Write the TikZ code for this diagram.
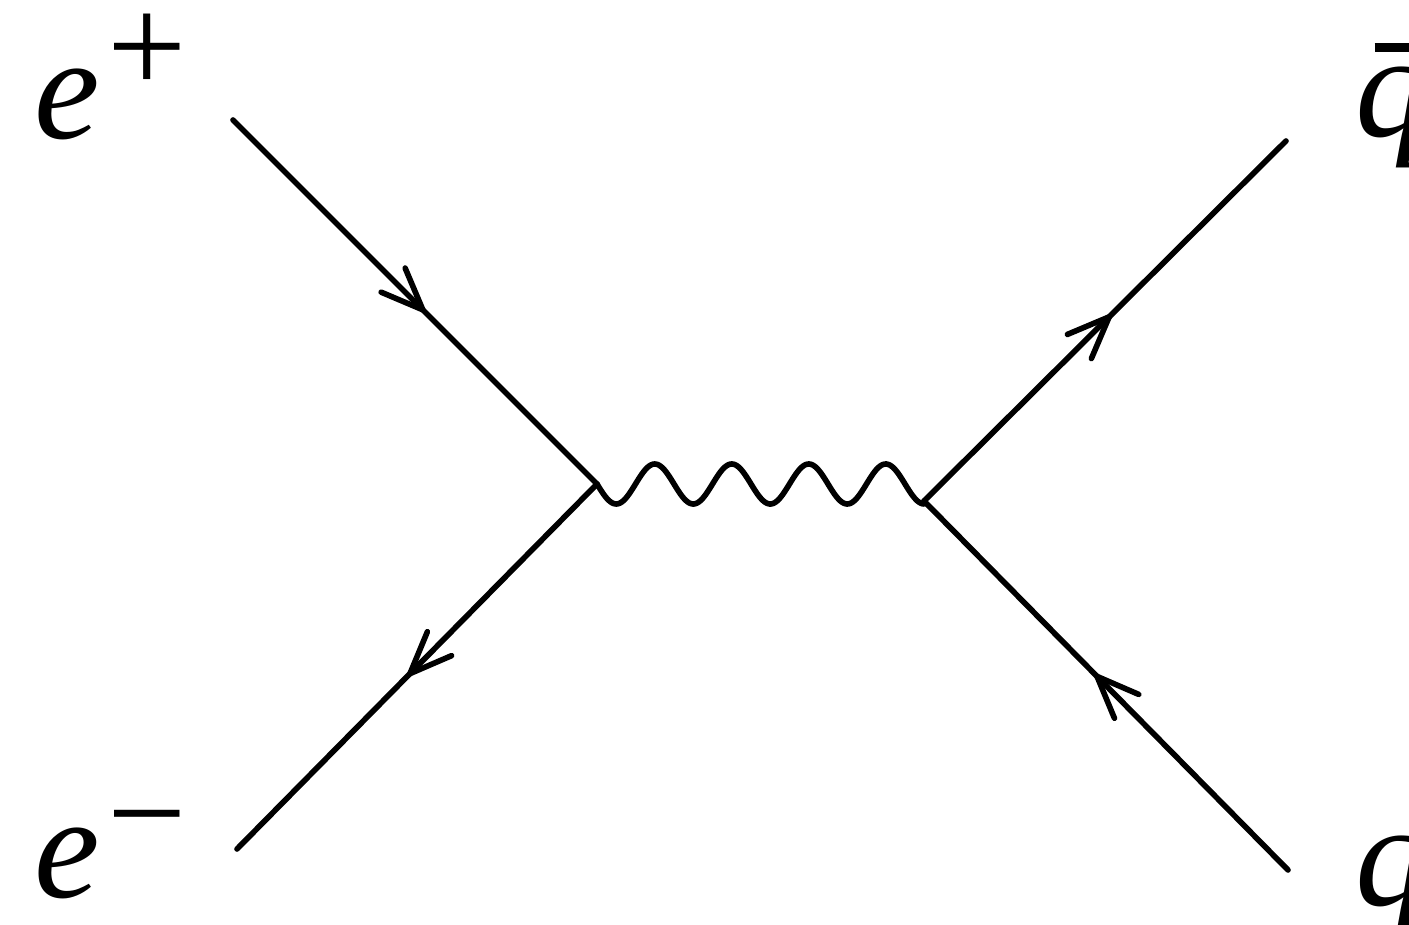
\documentclass[tikz,border=0pt]{standalone}
\usepackage{fontspec}
\setmainfont{Liberation Serif}
\usetikzlibrary{arrows.meta,decorations.markings}
\begin{document}
\begin{tikzpicture}[x=0.01cm,y=-0.01cm,
  line/.style={line width=1.6pt, black, line cap=round},
  fermion/.style={line, postaction={decorate},
    decoration={markings, mark=at position #1 with
      {\arrow{Straight Barb[length=0.42cm,width=0.34cm,line width=1.6pt,round]}}}},
  photon/.style={line},
  lbl/.style={anchor=base west, inner sep=0pt, font=\fontsize{42}{42}\selectfont\itshape},
  sup/.style={}]
\useasboundingbox (0,0) rectangle (1409,925);
\fill[white] (0,0) rectangle (1409,925);
% vertices and free ends
\coordinate (a) at (233,120);
\coordinate (b) at (237,849);
\coordinate (c) at (1286,141);
\coordinate (d) at (1288,870);
\coordinate (v1) at (597,484);
\coordinate (v2) at (924,501);
% fermion lines
\draw[fermion=0.527] (a) -- (v1);
\draw[fermion=0.525] (v1) -- (b);
\draw[fermion=0.517] (v2) -- (c);
\draw[fermion=0.53] (d) -- (v2);
% photon
\draw[photon, shift={(v1)}] plot[domain=0:327, samples=200, smooth] (\x, {20*sin(\x*4.6753)});
% labels
\node[lbl] (ep) at (34,139) {e\hspace{2pt}\raisebox{12.8pt}{\upshape\fontsize{40}{40}\selectfont +}};
\node[lbl] (em) at (34,897) {e\hspace{2pt}\raisebox{10.5pt}{\upshape\fontsize{40}{40}\selectfont −}};
\node[lbl] (qb) at (1355,137) {\rlap{\hspace{0.19cm}\rule[0.85cm]{0.5cm}{0.09cm}}q};
\node[lbl] (q) at (1355,905) {q};
\end{tikzpicture}
\end{document}
